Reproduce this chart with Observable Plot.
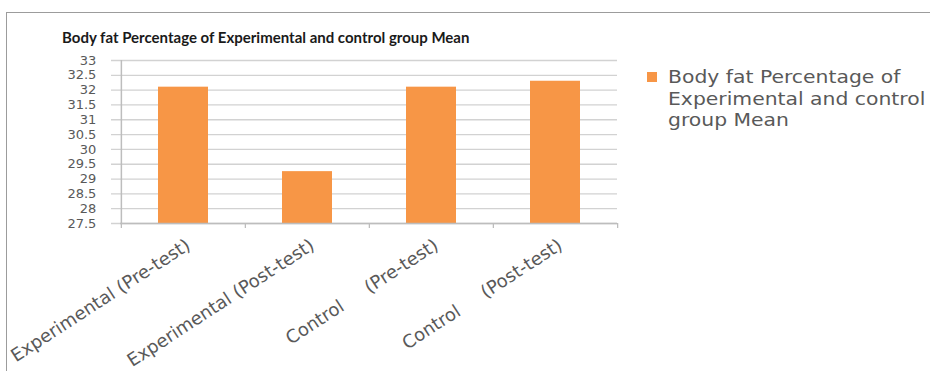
<!DOCTYPE html>
<html>
<head>
<meta charset="utf-8">
<script src="https://cdn.jsdelivr.net/npm/d3@7"></script>
<script src="https://cdn.jsdelivr.net/npm/@observablehq/plot@0.6"></script>
<style>
  body { margin: 0; background: #fff; }
  #page { position: relative; width: 930px; height: 371px; overflow: hidden; }
  #frame { position: absolute; left: 6px; top: 12px; width: 980px; height: 420px; border: 1.5px solid #9c9c9c; box-sizing: border-box; }
  #title { position: absolute; left: 62px; top: 28px; font: bold 15px Lato, sans-serif; color: #1a1a1a; white-space: nowrap; }
  #chart { position: absolute; left: 0; top: 0; }
  #chart text { white-space: pre; }
  #chart [aria-label="y-tick-labels"] text { letter-spacing: 1.3px; }
  #legend { position: absolute; left: 647px; top: 66px; font: 18px "DejaVu Sans", sans-serif; color: #595959; line-height: 21.5px; }
  #legend .key { position: absolute; left: 0; top: 6px; width: 10px; height: 10px; background: #F79646; }
  #legend .lines { position: absolute; left: 21px; top: 0; white-space: nowrap; transform: scaleX(1.13); transform-origin: 0 0; }
</style>
</head>
<body>
<div id="page">
  <div id="frame"></div>
  <div id="chart"></div>
  <div id="title"></div>
  <div id="legend"><div class="key"></div><div class="lines"></div></div>
</div>
<script>
// Group means of body fat percentage
const groups = ["Experimental (Pre-test)", "Experimental (Post-test)", "Control     (Pre-test)", "Control     (Post-test)"];
const means = [32.1, 29.25, 32.1, 32.3];
const yTicks = [27.5, 28, 28.5, 29, 29.5, 30, 30.5, 31, 31.5, 32, 32.5, 33];
const titleText = "Body fat Percentage of Experimental and control group Mean";
const legendLines = ["Body fat Percentage of", "Experimental and control", "group Mean"];

const W = 930, H = 371;
const mL = 120, mR = 313, mT = 60, mB = 148;
const halfStep = (W - mL - mR) / groups.length / 2;
const gridColor = "#d2d2d2";
const axisColor = "#bdbdbd";
const textColor = "#595959";
const barColor = "#F79646";

document.getElementById("title").textContent = titleText;
document.querySelector("#legend .lines").innerHTML = legendLines.map(s => `<div>${s}</div>`).join("");

const rows = groups.map((g, i) => ({group: g, mean: means[i]}));

const chart = Plot.plot({
  width: W,
  height: H,
  marginLeft: mL,
  marginRight: mR,
  marginTop: mT,
  marginBottom: mB,
  style: {fontFamily: "'DejaVu Sans', sans-serif", fontSize: "14px", color: textColor, background: "transparent", overflow: "visible"},
  x: {domain: groups, paddingInner: 0.6, paddingOuter: 0.3, axis: null},
  y: {domain: [yTicks[0], yTicks[yTicks.length - 1]], axis: null},
  marks: [
    // horizontal gridlines, extended left as outside tick marks
    Plot.ruleY(yTicks, {stroke: gridColor, strokeWidth: 1.3, insetLeft: -9}),
    Plot.text(yTicks, {
      x: () => groups[0], y: d => d, text: d => String(d),
      dx: -halfStep - 25, textAnchor: "end", fill: textColor, fontSize: 13,
      ariaLabel: "y-tick-labels"
    }),
    Plot.barY(rows, {x: "group", y1: () => yTicks[0], y2: "mean", fill: barColor}),
    // value axis line
    Plot.ruleX([groups[0]], {dx: -halfStep, y1: () => yTicks[0], y2: () => yTicks[yTicks.length - 1], stroke: axisColor, strokeWidth: 1.5}),
    // category axis line
    Plot.ruleY([yTicks[0]], {stroke: axisColor, strokeWidth: 1.5}),
    // category boundary tick marks
    Plot.ruleX(groups, {x: d => d, dx: -halfStep, y1: () => yTicks[0], y2: () => yTicks[0], insetBottom: -5, stroke: axisColor, strokeWidth: 1.3}),
    Plot.ruleX([groups[groups.length - 1]], {x: d => d, dx: halfStep, y1: () => yTicks[0], y2: () => yTicks[0], insetBottom: -5, stroke: axisColor, strokeWidth: 1.3}),
    // rotated category labels
    Plot.text(groups, {
      x: d => d, y: () => yTicks[0], text: d => d,
      rotate: -33, textAnchor: "end", dx: 5, dy: 20,
      fill: textColor, fontSize: 18
    })
  ]
});
document.getElementById("chart").appendChild(chart);
</script>
</body>
</html>
